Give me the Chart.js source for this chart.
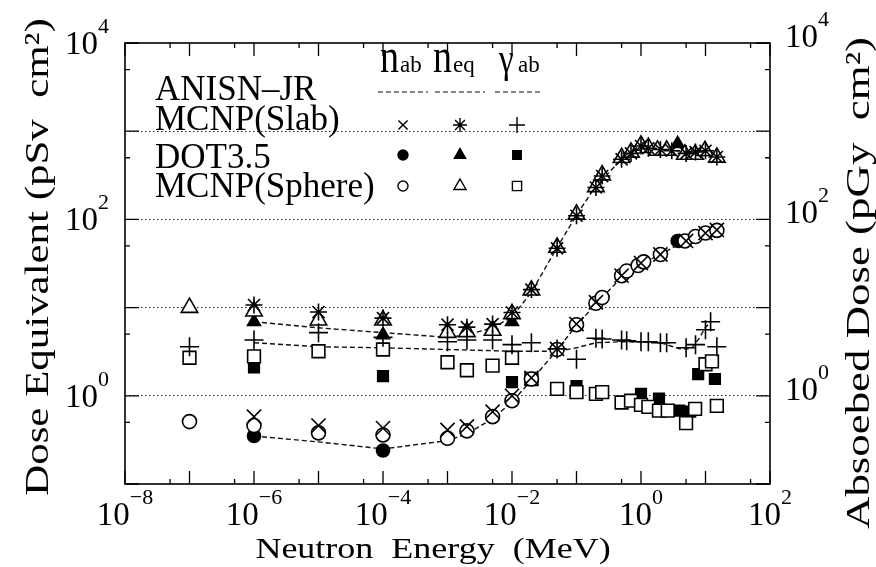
<!DOCTYPE html>
<html>
<head>
<meta charset="utf-8">
<script src="https://cdn.jsdelivr.net/npm/chart.js@4.4.1/dist/chart.umd.min.js"></script>
<style>
  html, body { margin: 0; padding: 0; background: #fff; }
  #wrap { width: 876px; height: 567px; }
</style>
</head>
<body>
<div id="wrap"><canvas id="chart" width="876" height="567"></canvas></div>
<script>
// --- data (energy in MeV, dose per fluence) ---
// ANISN-JR curves
const anisnNabE = [1e-6, 1e-5, 1e-4, 1e-3, 2e-3, 5e-3, 1e-2, 2e-2, 5e-2, 0.1, 0.2, 0.5, 1, 2, 5, 10, 15];
const anisnNab  = [0.35, 0.30, 0.25, 0.31, 0.37, 0.55, 0.85, 1.5, 3.3, 6.3, 11, 22, 31, 40, 58, 70, 75];
const anisnNeqE = [1e-6, 1e-5, 1e-4, 1e-3, 2e-3, 5e-3, 1e-2, 2e-2, 5e-2, 0.1, 0.2, 0.5, 1, 2, 5, 10, 15];
const anisnNeq  = [6.9, 5.9, 5.2, 4.6, 4.9, 5.9, 7.8, 15, 48, 112, 240, 480, 650, 620, 590, 580, 510];
const anisnGabE = [1e-6, 1e-5, 1e-4, 1e-3, 1e-2, 2e-2, 5e-2, 0.1, 0.2, 0.5, 1, 2, 4, 6, 8, 10, 12];
const anisnGab  = [4.0, 3.6, 3.5, 3.35, 3.2, 3.2, 3.2, 3.5, 4.0, 4.1, 4.1, 4.0, 3.4, 3.4, 4.5, 6.0, 6.8];

// MCNP (slab)
const slabNabE = [1e-6, 1e-5, 1e-4, 1e-3, 2e-3, 5e-3, 1e-2, 2e-2, 5e-2, 0.1, 0.2, 0.5, 1, 2, 5, 10, 15];
const slabNab  = [0.58, 0.46, 0.43, 0.41, 0.45, 0.66, 1.0, 1.6, 3.4, 6.5, 11.5, 23, 32, 40, 57, 70, 76];
const slabNeqE = [1e-6, 1e-5, 1e-4, 1e-3, 2e-3, 5e-3, 1e-2, 2e-2, 5e-2, 0.1, 0.2, 0.25, 0.5, 0.7, 1, 1.3, 2, 3, 5, 7, 10, 15];
const slabNeq  = [10.7, 8.9, 7.6, 6.4, 6.0, 6.5, 8.8, 16, 47, 110, 230, 310, 480, 560, 680, 640, 620, 600, 560, 580, 600, 510];
const slabGabE = [1e-7, 1e-6, 1e-5, 1e-4, 1e-3, 2e-3, 5e-3, 1e-2, 2e-2, 5e-2, 0.1, 0.2, 0.25, 0.5, 0.6, 1, 1.3, 2, 2.5, 5, 7, 10, 12, 15];
const slabGab  = [3.6, 4.3, 5.2, 4.6, 4.1, 4.3, 4.3, 3.8, 4.0, 3.4, 2.6, 4.5, 4.4, 4.3, 4.2, 4.1, 4.1, 4.0, 4.0, 3.5, 3.8, 5.6, 6.9, 3.6];

// DOT3.5
const dotNabE = [1e-6, 1e-4, 3.7];
const dotNab  = [0.35, 0.24, 57];
const dotNeqE = [1e-6, 1e-4, 1e-2, 3.7];
const dotNeq  = [6.9, 4.9, 6.9, 720];
const dotGabE = [1e-6, 1e-4, 1e-2, 0.1, 1, 1.9, 3.9, 5.8, 7.7, 14];
const dotGab  = [2.1, 1.67, 1.43, 1.29, 1.05, 0.93, 0.68, 0.66, 1.76, 1.55];

// MCNP (sphere)
const sphNabE = [1e-7, 1e-6, 1e-5, 1e-4, 1e-3, 2e-3, 5e-3, 1e-2, 2e-2, 5e-2, 0.1, 0.2, 0.25, 0.5, 0.6, 0.9, 1.1, 2, 4.8, 7, 10, 15];
const sphNab  = [0.51, 0.46, 0.38, 0.36, 0.33, 0.40, 0.58, 0.88, 1.55, 3.35, 6.4, 11.2, 13, 23, 26, 30, 33, 40, 57, 64, 70, 75];
const sphNeqE = [1e-7, 1e-6, 1e-5, 1e-4, 1e-3, 2e-3, 5e-3, 1e-2, 2e-2, 5e-2, 0.1, 0.2, 0.25, 0.5, 0.7, 1, 1.3, 1.8, 2.5, 4.8, 6.9, 9.8, 15];
const sphNeq  = [10, 9.1, 7.2, 7.2, 5.2, 5.3, 5.5, 8.5, 15.7, 48, 114, 234, 318, 500, 575, 690, 650, 605, 605, 545, 545, 600, 505];
const sphGabE = [1e-7, 1e-6, 1e-5, 1e-4, 1e-3, 2e-3, 5e-3, 1e-2, 2e-2, 5e-2, 0.1, 0.2, 0.25, 0.5, 0.7, 1, 1.3, 1.9, 2.6, 5, 6.9, 10, 12.6, 15];
const sphGab  = [2.7, 2.8, 3.2, 3.35, 2.4, 1.95, 2.2, 2.7, 1.55, 1.2, 1.1, 1.05, 1.1, 0.84, 0.88, 0.79, 0.75, 0.68, 0.68, 0.49, 0.71, 2.28, 2.46, 0.77];

// axes
const xDecades = [-8, -7, -6, -5, -4, -3, -2, -1, 0, 1, 2];
const xLabelExps = [-8, -6, -4, -2, 0, 2];
const yDecades = [-1, 0, 1, 2, 3, 4];
const yLabelExps = [0, 2, 4];
const yGridLines = [1, 10, 100, 1000];

const SERIF = '"Liberation Serif", "DejaVu Serif", "Times New Roman", serif';

function pts(xs, ys) {
    return xs.map((x, i) => ({ x: x, y: ys[i] }));
}

function lineSet(xs, ys) {
    return {
        data: pts(xs, ys),
        showLine: true,
        borderColor: '#111',
        borderWidth: 1.4,
        borderDash: [5, 3],
        pointRadius: 0,
        fill: false
    };
}

function markSet(xs, ys, style, radius, filled) {
    return {
        data: pts(xs, ys),
        showLine: false,
        pointStyle: style,
        pointRadius: radius,
        pointBorderWidth: 1.6,
        pointBorderColor: '#000',
        pointBackgroundColor: filled ? '#000' : '#fff'
    };
}

function drawText(ctx, str, x, y, size, opts) {
    opts = opts || {};
    ctx.save();
    ctx.translate(x, y);
    if (opts.rot) ctx.rotate(opts.rot);
    ctx.scale(opts.sx || 1, opts.sy || 1);
    ctx.font = size + 'px ' + SERIF;
    ctx.textAlign = opts.align || 'left';
    ctx.textBaseline = 'alphabetic';
    ctx.fillStyle = '#000';
    ctx.fillText(str, 0, 0);
    ctx.restore();
}

// "10" with a raised exponent
function drawPow(ctx, exp, x, y, align) {
    const sup = exp < 0 ? '\u2212' + (-exp) : String(exp);
    ctx.font = '33px ' + SERIF;
    const wb = ctx.measureText('10').width;
    ctx.font = '22px ' + SERIF;
    const we = ctx.measureText(sup).width;
    const w = wb + we;
    let left = x;
    if (align === 'center') left = x - w / 2;
    else if (align === 'right') left = x - w;
    drawText(ctx, '10', left, y, 33);
    drawText(ctx, sup, left + wb, y - 21, 22);
}

function marker(ctx, style, r, filled, x, y) {
    ctx.save();
    ctx.strokeStyle = '#000';
    ctx.fillStyle = filled ? '#000' : '#fff';
    ctx.lineWidth = 1.4;
    Chart.helpers.drawPoint(ctx, { pointStyle: style, radius: r, borderWidth: 1.4, rotation: 0 }, x, y);
    ctx.restore();
}

// frame, inward ticks, labels, titles and legend
const decorPlugin = {
    id: 'decor',
    afterDatasetsDraw(chart) {
        const ctx = chart.ctx;
        const a = chart.chartArea;
        const xs = chart.scales.x, ys = chart.scales.y;

        ctx.save();
        ctx.strokeStyle = '#000';
        ctx.lineWidth = 1.6;
        ctx.strokeRect(a.left, a.top, a.right - a.left, a.bottom - a.top);

        ctx.lineWidth = 1.3;
        ctx.beginPath();
        xDecades.forEach(d => {
            const px = xs.getPixelForValue(Math.pow(10, d));
            ctx.moveTo(px, a.bottom); ctx.lineTo(px, a.bottom - 13);
            ctx.moveTo(px, a.top); ctx.lineTo(px, a.top + 13);
            if (d < 2) {
                const pm = xs.getPixelForValue(5 * Math.pow(10, d));
                ctx.moveTo(pm, a.bottom); ctx.lineTo(pm, a.bottom - 5);
                ctx.moveTo(pm, a.top); ctx.lineTo(pm, a.top + 5);
            }
        });
        yDecades.forEach(d => {
            const py = ys.getPixelForValue(Math.pow(10, d));
            ctx.moveTo(a.left, py); ctx.lineTo(a.left + 14, py);
            ctx.moveTo(a.right, py); ctx.lineTo(a.right - 14, py);
            if (d < 4) {
                const pm = ys.getPixelForValue(5 * Math.pow(10, d));
                ctx.moveTo(a.left, pm); ctx.lineTo(a.left + 5, pm);
                ctx.moveTo(a.right, pm); ctx.lineTo(a.right - 5, pm);
            }
        });
        ctx.stroke();
        ctx.restore();

        // tick labels
        xLabelExps.forEach(e => {
            drawPow(ctx, e, xs.getPixelForValue(Math.pow(10, e)), a.bottom + 41, 'center');
        });
        yLabelExps.forEach(e => {
            const py = ys.getPixelForValue(Math.pow(10, e));
            drawPow(ctx, e, a.left - 16, py + 11, 'right');
            drawPow(ctx, e, a.right + 15, py + 4, 'left');
        });

        // axis titles
        drawText(ctx, 'Neutron  Energy  (MeV)', 433, 558, 30, { align: 'center', sx: 1.2 });
        drawText(ctx, 'Dose Equivalent (pSv  cm\u00B2)', 48, 257, 33, { align: 'center', sx: 1.3, rot: -Math.PI / 2 });
        drawText(ctx, 'Absoebed Dose (pGy  cm\u00B2)', 869, 283, 34, { align: 'center', sx: 1.32, rot: -Math.PI / 2 });

        // legend
        drawText(ctx, 'ANISN\u2013JR', 155, 100, 35);
        drawText(ctx, 'MCNP(Slab)', 155, 130, 35);
        drawText(ctx, 'DOT3.5', 155, 168, 35);
        drawText(ctx, 'MCNP(Sphere)', 155, 197, 35);

        drawText(ctx, 'n', 380, 72, 38, { sy: 1.25 });
        drawText(ctx, 'ab', 400, 72, 23);
        drawText(ctx, 'n', 433, 72, 38, { sy: 1.25 });
        drawText(ctx, 'eq', 453, 72, 23);
        drawText(ctx, '\u03B3', 499, 72, 33, { sy: 1.2 });
        drawText(ctx, 'ab', 518, 72, 23);

        ctx.save();
        ctx.strokeStyle = '#111';
        ctx.lineWidth = 1.2;
        ctx.setLineDash([5, 3]);
        ctx.beginPath();
        [[378, 428], [435, 485], [495, 543]].forEach(s => {
            ctx.moveTo(s[0], 92); ctx.lineTo(s[1], 92);
        });
        ctx.stroke();
        ctx.restore();

        marker(ctx, 'crossRot', 6.5, false, 403, 125);
        marker(ctx, 'star', 7, false, 460, 125);
        marker(ctx, 'cross', 8, false, 517, 125);
        marker(ctx, 'circle', 5, true, 403, 155);
        marker(ctx, 'triangle', 6.5, true, 460, 155);
        marker(ctx, 'rect', 6, true, 517, 155);
        marker(ctx, 'circle', 5, false, 403, 186);
        marker(ctx, 'triangle', 7, false, 460, 186);
        marker(ctx, 'rect', 6.5, false, 517, 186);
    }
};

const ctx = document.getElementById('chart');

new Chart(ctx, {
    type: 'scatter',
    data: {
        datasets: [
            markSet(slabNabE, slabNab, 'crossRot', 10, false),
            markSet(slabNeqE, slabNeq, 'star', 8.5, false),
            markSet(slabGabE, slabGab, 'cross', 9.5, false),
            markSet(sphNabE, sphNab, 'circle', 7, false),
            markSet(sphNeqE, sphNeq, 'triangle', 9.5, false),
            markSet(sphGabE, sphGab, 'rect', 9, false),
            markSet(dotNabE, dotNab, 'circle', 6.5, true),
            markSet(dotNeqE, dotNeq, 'triangle', 7.5, true),
            markSet(dotGabE, dotGab, 'rect', 7.5, true),
            lineSet(anisnNabE, anisnNab),
            lineSet(anisnNeqE, anisnNeq),
            lineSet(anisnGabE, anisnGab)
        ]
    },
    options: {
        responsive: false,
        animation: false,
        devicePixelRatio: 1,
        layout: {
            padding: { left: 125, right: 106, top: 43, bottom: 75 }
        },
        plugins: {
            legend: { display: false },
            tooltip: { enabled: false }
        },
        scales: {
            x: {
                type: 'logarithmic',
                min: 1e-8,
                max: 1e2,
                ticks: { display: false },
                grid: { display: false },
                border: { display: false }
            },
            y: {
                type: 'logarithmic',
                min: 0.1,
                max: 1e4,
                afterBuildTicks: (scale) => {
                    scale.ticks = yGridLines.map(v => ({ value: v }));
                },
                ticks: { display: false },
                grid: { color: '#222', lineWidth: 1, drawTicks: false },
                border: { display: false, dash: [1.5, 2.5] }
            }
        }
    },
    plugins: [decorPlugin]
});
</script>
</body>
</html>
